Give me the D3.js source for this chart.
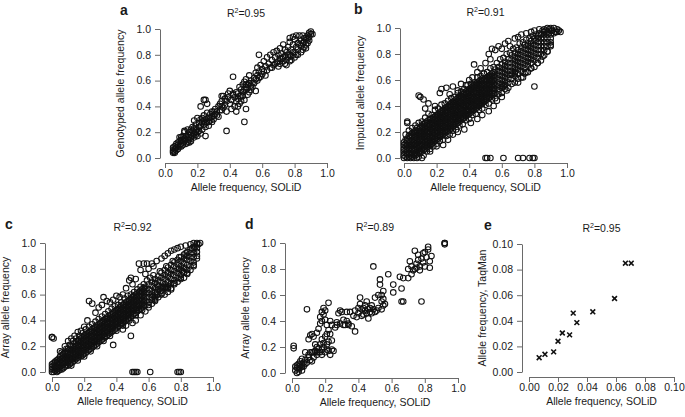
<!DOCTYPE html>
<html><head><meta charset="utf-8">
<script src="https://cdn.jsdelivr.net/npm/d3@7"></script>
<style>
body{margin:0;background:#fff}
text{font-family:"Liberation Sans",Arial,Helvetica,sans-serif;fill:#1a1a1a}
</style></head>
<body><svg id="chart" width="685" height="417"></svg>
<script>
// ---------- DATA ----------
const ticksUnit = [0, 0.2, 0.4, 0.6, 0.8, 1.0];
const tickLabelsUnit = ["0.0", "0.2", "0.4", "0.6", "0.8", "1.0"];
const ticksSmall = [0, 0.02, 0.04, 0.06, 0.08, 0.10];
const tickLabelsSmall = ["0.00", "0.02", "0.04", "0.06", "0.08", "0.10"];

const panelLetters = ["a", "b", "c", "d", "e"];
const r2Values = ["0.95", "0.91", "0.92", "0.89", "0.95"];
const yTitles = ["Genotyped allele frequency", "Imputed allele frequency", "Array allele frequency", "Array allele frequency", "Allele frequency, TaqMan"];
const xTitle = "Allele frequency, SOLiD";

// panel a: SOLiD vs genotyped (x,y pairs)
const pointsA = [.05,.04,.05,.05,.05,.06,.06,.04,.06,.05,.06,.07,.05,.08,.07,.06,.07,.08,.06,.09,.08,.07,.08,.10,.09,.09,.08,.12,.09,.13,.10,.11,.10,.09,.07,.11,.10,.14,.11,.12,.11,.10,.12,.13,.12,.15,.13,.11,.13,.17,.14,.14,.14,.18,.15,.16,.15,.20,.16,.15,.16,.18,.17,.17,.17,.21,.18,.16,.18,.19,.19,.22,.19,.18,.20,.20,.20,.17,.21,.24,.15,.12,.12,.20,.11,.17,.16,.22,.18,.29,.19,.26,.20,.31,.17,.24,.14,.22,.21,.27,.22,.30,.23,.28,.24,.26,.24,.33,.25,.30,.26,.28,.26,.35,.27,.31,.28,.34,.28,.29,.29,.36,.30,.33,.30,.30,.25,.24,.23,.22,.22,.19,.27,.25,.29,.28,.31,.34,.31,.38,.32,.36,.33,.32,.33,.40,.34,.42,.35,.37,.35,.44,.36,.39,.36,.48,.37,.46,.37,.41,.38,.44,.38,.36,.39,.47,.39,.50,.40,.52,.40,.42,.41,.45,.41,.38,.42,.49,.42,.50,.43,.47,.43,.40,.44,.51,.44,.44,.45,.46,.45,.50,.46,.42,.46,.55,.47,.53,.47,.48,.48,.57,.48,.51,.49,.59,.49,.45,.50,.55,.50,.53,.51,.57,.51,.49,.50,.61,.52,.64,.52,.58,.53,.56,.53,.60,.54,.55,.55,.62,.55,.58,.56,.66,.56,.52,.57,.60,.57,.70,.58,.67,.58,.62,.59,.72,.60,.65,.60,.69,.61,.75,.62,.64,.62,.71,.63,.68,.63,.78,.64,.73,.65,.70,.65,.80,.66,.76,.67,.72,.67,.82,.68,.78,.69,.74,.69,.83,.70,.80,.70,.71,.71,.77,.71,.85,.72,.81,.73,.75,.73,.88,.74,.79,.74,.84,.75,.82,.75,.72,.76,.86,.76,.78,.77,.80,.77,.90,.78,.84,.78,.76,.79,.88,.80,.82,.80,.92,.81,.86,.82,.89,.82,.80,.83,.95,.84,.87,.84,.91,.85,.84,.86,.90,.86,.93,.87,.88,.88,.92,.88,.95,.89,.97,.90,.96,.91,.96,.90,.98,.89,.94,.85,.95,.87,.93,.79,.94,.77,.93,.81,.95,.58,.80,.42,.63,.22,.40,.24,.45,.25,.45,.38,.21,.49,.28,.50,.38,.25,.17,.35,.48,.26,.42,.09,.16,.12,.21,
 .10,.16,.11,.14,.13,.15,.14,.12,.16,.13,.18,.23,.19,.20,.21,.21,.22,.25,.23,.31,.24,.29,.25,.27,.27,.28,.28,.31,.29,.32,.30,.36,.32,.33,.34,.37,.35,.40,.44,.36,.45,.40,.46,.48,.47,.44,.48,.48,.49,.53,.50,.57,.51,.54,.52,.51,.53,.53,.54,.58,.56,.61,.57,.64,.59,.63,.61,.67,.66,.70,.68,.73,.70,.75,.71,.73,.72,.77,.73,.78,.74,.73,.75,.76,.76,.80,.77,.75,.78,.79,.79,.82,.80,.78,.81,.80,.82,.84,.83,.88,.84,.82,.85,.89,.86,.86,.87,.85,.88,.89,.89,.91];

// panel b: dense core, columns [x, [y...]]
const coreB = [
 [.00,[.00,.02,.05,.07,.10,.12]],[.01,[.01,.04,.06,.09,.11,.14]],[.02,[.00,.03,.05,.08,.10,.13,.15]],
 [.03,[.01,.04,.07,.09,.12,.14,.17]],[.04,[.00,.02,.05,.08,.10,.13,.16,.18]],[.05,[.01,.03,.06,.09,.11,.14,.17,.19]],
 [.06,[.00,.02,.05,.07,.10,.12,.15,.18,.20]],[.07,[.02,.04,.06,.09,.11,.14,.16,.19,.21]],[.08,[.03,.05,.08,.10,.13,.15,.18,.20,.23]],
 [.10,[.04,.06,.09,.11,.14,.17,.19,.21,.24]],[.12,[.06,.08,.11,.13,.16,.18,.21,.23,.26]],[.14,[.08,.10,.12,.15,.17,.20,.22,.25,.28]],
 [.16,[.10,.12,.15,.17,.20,.22,.25,.27,.30]],[.18,[.12,.14,.17,.19,.22,.24,.27,.29,.31]],[.20,[.14,.16,.19,.21,.24,.26,.28,.31,.33]],
 [.22,[.16,.18,.21,.23,.26,.28,.31,.33,.35]],[.24,[.18,.20,.23,.25,.28,.30,.32,.35,.37]],[.26,[.20,.22,.25,.27,.30,.32,.35,.37,.39]],
 [.28,[.22,.24,.26,.29,.31,.34,.36,.39,.41]],[.30,[.24,.26,.29,.31,.34,.36,.38,.41,.43]],[.32,[.26,.28,.31,.33,.35,.38,.40,.43,.45]],
 [.34,[.28,.30,.33,.35,.38,.40,.42,.45,.47]],[.36,[.30,.32,.35,.37,.40,.42,.45,.47,.49]],[.38,[.32,.34,.36,.39,.41,.44,.46,.49,.51]],
 [.40,[.34,.36,.39,.41,.44,.46,.48,.51,.53]],[.42,[.36,.38,.41,.43,.45,.48,.50,.53,.55]],[.44,[.38,.40,.42,.45,.47,.50,.52,.55,.57]],
 [.46,[.40,.42,.45,.47,.50,.52,.54,.57,.59]],[.48,[.42,.44,.47,.49,.51,.54,.56,.59,.61]],[.50,[.44,.46,.49,.51,.54,.56,.59,.61]],
 [.52,[.46,.48,.51,.53,.56,.58,.61,.63]],[.54,[.48,.50,.53,.55,.58,.60,.63,.65]],[.56,[.50,.53,.56,.59,.62,.65,.68]],
 [.58,[.52,.55,.58,.61,.64,.67,.70]],[.60,[.54,.57,.60,.63,.66,.69,.72]],[.62,[.56,.59,.62,.65,.68,.71,.74]],
 [.64,[.58,.61,.64,.67,.70,.73,.76]],[.66,[.61,.64,.67,.70,.73,.76,.79]],[.68,[.63,.66,.69,.72,.75,.78,.81]],
 [.70,[.65,.68,.71,.74,.77,.80,.83]],[.72,[.67,.70,.73,.76,.79,.82,.85]],[.74,[.69,.72,.75,.78,.81,.84,.87]],
 [.76,[.71,.74,.77,.80,.83,.86,.88]],[.78,[.73,.76,.79,.82,.85,.88,.90]],[.80,[.75,.78,.81,.84,.87,.90,.92]],
 [.82,[.77,.80,.83,.86,.89,.92,.94]],[.84,[.80,.83,.86,.89,.92,.95]],[.86,[.83,.86,.89,.92,.95,.97]],
 [.88,[.86,.89,.92,.95,.97]],[.90,[.89,.92,.95,.98]]
];
// panel b: in-between columns of the dark core
const coreB2 = [
 [.09,[.04,.07,.09,.12,.15,.17,.20,.22]],[.11,[.05,.07,.10,.12,.15,.18,.20,.23,.25]],[.13,[.07,.09,.12,.14,.17,.19,.22,.24,.27]],
 [.15,[.09,.11,.14,.16,.19,.21,.24,.26,.29]],[.17,[.11,.13,.16,.18,.21,.23,.26,.28,.30]],[.19,[.13,.15,.18,.20,.23,.25,.27,.30,.32]],
 [.21,[.15,.17,.20,.22,.25,.27,.29,.32,.34]],[.23,[.17,.19,.22,.24,.27,.29,.31,.34,.36]],[.25,[.19,.21,.24,.26,.29,.31,.33,.36,.38]],
 [.27,[.21,.23,.26,.28,.30,.33,.35,.38,.40]],[.29,[.23,.25,.28,.30,.32,.35,.37,.40,.42]],[.31,[.25,.27,.30,.32,.34,.37,.39,.42,.44]],
 [.33,[.27,.29,.32,.34,.36,.39,.41,.44,.46]],[.35,[.29,.31,.34,.36,.38,.41,.43,.46,.48]],[.37,[.31,.33,.35,.38,.40,.43,.45,.48,.50]],
 [.39,[.33,.35,.37,.40,.42,.45,.47,.50,.52]],[.41,[.35,.37,.40,.42,.44,.47,.49,.52,.54]],[.43,[.37,.39,.42,.44,.46,.49,.51,.54,.56]],
 [.45,[.39,.41,.44,.46,.48,.51,.53,.56,.58]],[.47,[.41,.43,.46,.48,.50,.53,.55,.58,.60]],[.49,[.43,.45,.48,.50,.52,.55,.57,.60]],
 [.51,[.45,.47,.50,.52,.55,.57,.60,.62]],[.53,[.47,.49,.52,.54,.57,.59,.62,.64]],[.55,[.49,.52,.54,.57,.60,.63,.66]]
];
// panel b: scattered points outside the core (x,y pairs)
const scatterB = [.02,.28,.02,.27,.09,.48,.10,.47,.12,.45,.15,.42,.13,.38,.19,.40,.22,.50,.23,.53,.26,.54,.28,.49,.30,.55,.33,.52,.35,.57,.38,.56,.40,.60,.42,.62,.43,.72,.45,.66,.47,.69,.49,.65,.50,.73,.52,.80,.54,.84,.53,.76,.56,.83,.58,.86,.60,.84,.62,.88,.64,.90,.65,.86,.68,.92,.70,.93,.72,.95,.75,.96,.78,.97,.80,.98,.83,.99,.86,.99,.88,1.0,.90,1.0,.92,1.0,.94,.99,.95,.98,.93,.97,.91,.98,.96,.97,.92,.96,.94,.97,.89,.99,
 .01,.18,.03,.21,.05,.23,.07,.25,.09,.27,.11,.28,.13,.31,.15,.34,.17,.33,.19,.37,.21,.38,.23,.41,.25,.42,.27,.44,.29,.46,.31,.47,.33,.50,.35,.51,.37,.53,.39,.56,.41,.57,.43,.58,.45,.62,.47,.63,.49,.65,.51,.66,.53,.69,.55,.70,.57,.73,.59,.76,.61,.77,.63,.80,.65,.81,.67,.84,.69,.85,.71,.88,.73,.89,.75,.91,.77,.92,.79,.94,.81,.95,.83,.96,.85,.98,.87,.98,
 .09,.01,.12,.02,.14,.05,.16,.07,.18,.09,.20,.11,.22,.13,.24,.14,.26,.17,.28,.18,.30,.21,.32,.22,.34,.25,.36,.26,.38,.29,.40,.30,.42,.33,.44,.34,.46,.37,.48,.38,.50,.41,.52,.42,.54,.45,.56,.46,.58,.49,.60,.50,.62,.53,.64,.54,.66,.57,.68,.58,.70,.61,.72,.62,.74,.65,.76,.66,.78,.69,.80,.70,.82,.73,.84,.75,.86,.79,.88,.82,.90,.86,
 .16,.05,.20,.09,.24,.10,.27,.14,.30,.18,.33,.20,.37,.22,.41,.27,.45,.30,.48,.33,.52,.36,.55,.40,.57,.44,.60,.47,.63,.52,.60,.55,.61,.55,.66,.65,.68,.65,.70,.58,.73,.62,.75,.66,.78,.69,.80,.55,.82,.73,.85,.78,.88,.82,.90,.87,.08,.00,.11,.00,
 .50,.00,.51,.00,.53,.00,.61,.00,.70,.00,.73,.00,.77,.00,.79,.00,.80,.00];

// panel c: dense core columns
const coreC = [
 [.00,[.00,.02,.04,.06]],[.01,[.00,.02,.05,.07]],[.02,[.01,.03,.05,.08]],[.03,[.00,.02,.04,.07,.09]],
 [.04,[.01,.03,.06,.08,.10]],[.05,[.02,.04,.07,.09,.12]],[.06,[.02,.05,.07,.10,.13]],[.07,[.03,.06,.08,.11,.14]],
 [.08,[.04,.07,.09,.12,.15]],[.10,[.05,.08,.10,.13,.15,.18]],[.12,[.07,.10,.12,.15,.17,.20]],[.14,[.09,.11,.14,.16,.19,.22]],
 [.16,[.11,.13,.16,.18,.21,.24]],[.18,[.12,.15,.17,.20,.23,.26]],[.20,[.14,.17,.19,.22,.25,.28]],[.22,[.16,.19,.21,.24,.27,.30]],
 [.24,[.18,.21,.23,.26,.29,.32]],[.26,[.20,.23,.25,.28,.31,.34]],[.28,[.22,.25,.27,.30,.33,.36]],[.30,[.24,.27,.29,.32,.35,.38]],
 [.32,[.26,.29,.31,.34,.37,.40]],[.34,[.28,.31,.33,.36,.39,.42]],[.36,[.30,.33,.35,.38,.41,.44]],[.38,[.32,.35,.37,.40,.43,.46]],
 [.40,[.34,.37,.39,.42,.45,.48]],[.42,[.36,.39,.41,.44,.47,.50]],[.44,[.38,.41,.43,.46,.49,.52]],[.46,[.40,.43,.45,.48,.51,.54]],
 [.48,[.42,.45,.47,.50,.53,.56]],[.50,[.44,.47,.49,.52,.55,.58]],[.52,[.46,.49,.51,.54,.57,.60]],[.54,[.48,.51,.53,.56,.59,.62]],
 [.56,[.50,.53,.56,.59,.62,.64]],[.58,[.52,.55,.58,.61,.64,.66]],[.60,[.54,.58,.61,.64,.68]],[.62,[.56,.60,.63,.67,.70]],
 [.64,[.58,.62,.65,.69,.72]],[.66,[.60,.64,.67,.71,.74]],[.68,[.63,.66,.70,.73,.77]],[.70,[.65,.68,.72,.75,.79]],
 [.72,[.67,.70,.74,.77,.81]],[.74,[.69,.72,.76,.79,.83]],[.76,[.71,.75,.78,.82,.85]],[.78,[.73,.77,.80,.84,.87]],
 [.80,[.75,.79,.82,.86,.89]],[.82,[.77,.81,.84,.88,.91]],[.84,[.79,.83,.87,.90,.93]],[.86,[.82,.86,.89,.92,.95]],
 [.88,[.85,.89,.92,.95,.97]],[.90,[.90,.93,.96,.99]]
];
const coreC2 = [
 [.09,[.05,.07,.10,.12,.15]],[.11,[.06,.09,.11,.14,.17]],[.13,[.08,.10,.13,.15,.18,.20]],[.15,[.10,.12,.15,.17,.20,.23]],
 [.17,[.12,.14,.16,.19,.22,.25]],[.19,[.13,.16,.18,.21,.24,.27]],[.21,[.15,.18,.20,.23,.26,.29]],[.23,[.17,.20,.22,.25,.28,.31]],
 [.25,[.19,.22,.24,.27,.30,.33]],[.27,[.21,.24,.26,.29,.32,.35]],[.29,[.23,.26,.28,.31,.34,.37]],[.31,[.25,.28,.30,.33,.36,.39]],
 [.33,[.27,.30,.32,.35,.38,.41]],[.35,[.29,.32,.34,.37,.40,.43]],[.37,[.31,.34,.36,.39,.42,.45]],[.39,[.33,.36,.38,.41,.44,.47]],
 [.41,[.35,.38,.40,.43,.46,.49]],[.43,[.37,.40,.42,.45,.48,.51]],[.45,[.39,.42,.44,.47,.50,.53]],[.47,[.41,.44,.46,.49,.52,.55]],
 [.49,[.43,.46,.48,.51,.54,.57]],[.51,[.45,.48,.50,.53,.56,.59]],[.53,[.47,.50,.52,.55,.58,.61]],[.55,[.49,.52,.55,.58,.61,.63]],
 [.57,[.51,.54,.57,.60,.63,.65]]
];
const scatterC = [.00,.27,.00,.27,.01,.26,.05,.16,.08,.20,.10,.24,.12,.26,.14,.28,.16,.31,.18,.32,.20,.35,.22,.40,.23,.55,.25,.53,.27,.46,.29,.50,.32,.58,.31,.52,.34,.55,.36,.54,.38,.56,.40,.59,.42,.58,.44,.60,.46,.65,.48,.71,.49,.73,.50,.68,.52,.72,.54,.84,.55,.79,.57,.84,.59,.84,.62,.84,.58,.76,.60,.80,.63,.82,.65,.86,.68,.88,.70,.90,.72,.92,.74,.94,.76,.95,.78,.96,.80,.97,.83,.98,.86,.99,.88,1.0,.90,1.0,.92,1.0,.91,.99,.89,.97,
 .38,.21,.49,.28,.50,.38,.44,.33,.46,.36,.52,.40,.55,.44,.58,.47,.60,.50,.62,.53,.64,.55,.66,.58,.68,.60,.70,.60,.72,.62,.74,.65,.69,.66,.71,.65,.66,.66,.65,.60,.76,.68,.78,.70,.80,.72,.82,.73,.84,.76,.86,.79,.88,.83,.90,.88,.79,.80,.81,.78,.62,.58,.64,.56,.68,.65,.70,.66,.72,.65,.74,.64,
 .06,.15,.09,.18,.11,.21,.13,.24,.15,.26,.17,.28,.19,.30,.21,.33,.23,.35,.25,.37,.27,.39,.29,.41,.31,.43,.33,.45,.35,.47,.37,.49,.39,.51,.41,.52,.43,.54,.45,.57,.47,.59,.49,.60,.51,.62,.53,.64,.55,.66,.57,.68,.59,.71,.61,.73,.63,.75,.67,.78,.71,.82,.75,.86,.79,.89,.83,.92,.87,.96,
 .12,.05,.16,.09,.20,.12,.24,.16,.28,.20,.32,.24,.36,.28,.40,.32,.44,.36,.48,.40,.52,.44,.56,.48,.60,.52,.64,.57,.68,.61,.72,.65,.76,.69,.80,.73,.84,.77,.88,.82,
 .50,.00,.51,.00,.52,.00,.53,.00,.61,.00,.78,.00,.79,.00,.80,.00];

// panel d: SOLiD vs array (x,y pairs)
const pointsD = [.02,.02,.03,.04,.03,.06,.04,.03,.04,.05,.05,.04,.05,.06,.02,.05,.03,.00,.04,.01,.06,.02,.06,.05,.07,.08,.05,.09,.04,.07,.07,.05,.08,.10,.08,.07,.06,.11,.09,.08,.10,.12,.10,.14,.11,.10,.12,.09,.12,.16,.13,.16,.13,.12,.14,.17,.15,.16,.15,.14,.16,.19,.16,.16,.17,.22,.17,.16,.18,.18,.18,.14,.19,.20,.20,.16,.21,.18,.21,.22,.22,.17,.23,.14,.24,.18,.25,.17,.22,.24,
 .01,.21,.01,.19,.09,.49,.10,.26,.11,.29,.12,.30,.13,.28,.14,.22,.15,.31,.16,.34,.17,.38,.17,.43,.18,.47,.18,.40,.19,.45,.19,.50,.20,.48,.20,.41,.21,.37,.21,.30,.20,.28,.22,.33,.23,.40,.22,.54,.24,.37,.26,.35,.27,.39,.28,.46,.29,.48,.30,.47,.31,.41,.32,.37,.33,.40,.33,.47,.34,.37,.35,.47,.36,.36,.37,.44,.38,.32,.38,.48,.39,.43,.40,.50,.40,.46,.41,.58,.41,.53,.42,.44,.42,.49,.43,.45,.43,.50,.44,.48,.44,.52,.45,.46,.45,.55,.46,.49,.46,.42,.47,.50,.47,.47,.48,.46,.48,.52,.49,.49,.50,.47,.50,.58,.51,.48,.52,.50,.52,.60,.53,.68,.53,.72,.54,.55,.54,.49,.55,.52,.55,.57,.55,.63,.56,.53,.54,.60,
 .49,.82,.58,.76,.61,.68,.61,.62,.65,.74,.66,.65,.66,.55,.67,.55,.67,.73,.70,.73,.70,.80,.71,.86,.72,.82,.73,.79,.74,.94,.75,.84,.75,.81,.76,.87,.76,.91,.77,.82,.77,.79,.78,.88,.79,.85,.79,.92,.80,.93,.80,.82,.81,.89,.82,.97,.82,.95,.83,.81,.83,.86,.84,.90,.78,.55,.74,.80,.72,.76,
 .92,1.0,.92,1.0,.92,.99,.27,.37,.29,.38,.31,.37,.34,.38,.15,.20,.18,.26,.19,.23,.24,.25,.11,.16,.08,.16,.23,.30];

// panel e: SOLiD vs TaqMan
const solidE = [0.007, 0.011, 0.017, 0.020, 0.023, 0.028, 0.0305, 0.033, 0.044, 0.059, 0.0665, 0.0705];
const taqmanE = [0.0112, 0.0138, 0.0157, 0.024, 0.0305, 0.029, 0.046, 0.0386, 0.047, 0.0574, 0.085, 0.085];

// ---------- DRAWING ----------
const svg = d3.select("#chart");
const toPairs = flat => d3.range(0, flat.length, 2).map(i => [flat[i], flat[i + 1]]);
const fromCols = cols => cols.flatMap(([x, ys]) => ys.map(y => [x, y]));

const panels = [
  {data: toPairs(pointsA), max: 1, ticks: ticksUnit, labels: tickLabelsUnit, xr: [165, 327], yr: [158, 29], ax: 160, ay: 163, lx: 120, mark: "circle"},
  {data: fromCols(coreB).concat(fromCols(coreB2), toPairs(scatterB)), max: 1, ticks: ticksUnit, labels: tickLabelsUnit, xr: [404, 567], yr: [158, 28], ax: 400, ay: 163, lx: 354, mark: "circle"},
  {data: fromCols(coreC).concat(fromCols(coreC2), toPairs(scatterC)), max: 1, ticks: ticksUnit, labels: tickLabelsUnit, xr: [52, 213], yr: [372, 243], ax: 45, ay: 377, lx: 5, mark: "circle"},
  {data: toPairs(pointsD), max: 1, ticks: ticksUnit, labels: tickLabelsUnit, xr: [292, 458], yr: [373, 243], ax: 285, ay: 378, lx: 245, mark: "circle"},
  {data: solidE.map((v, i) => [v, taqmanE[i]]), max: 0.1, ticks: ticksSmall, labels: tickLabelsSmall, xr: [529, 674], yr: [372, 244], ax: 522, ay: 377, lx: 484, mark: "cross"}
];

panels.forEach((p, i) => {
  const x = d3.scaleLinear().domain([0, p.max]).range(p.xr);
  const y = d3.scaleLinear().domain([0, p.max]).range(p.yr);
  const g = svg.append("g");

  const fmt = d => p.labels[p.ticks.indexOf(d)];
  const yAxis = g.append("g").attr("transform", `translate(${p.ax},0)`)
    .call(d3.axisLeft(y).tickValues(p.ticks).tickFormat(fmt).tickSize(5).tickSizeOuter(0).tickPadding(4));
  const xAxis = g.append("g").attr("transform", `translate(0,${p.ay})`)
    .call(d3.axisBottom(x).tickValues(p.ticks).tickFormat(fmt).tickSize(5).tickSizeOuter(0).tickPadding(2));
  [yAxis, xAxis].forEach(a => {
    a.attr("font-family", null).attr("font-size", null);
    a.selectAll("path,line").attr("stroke", "#6a6a6a").attr("stroke-width", 1);
    a.selectAll("text").attr("font-size", 10.5).attr("fill", "#1a1a1a");
  });

  // marks
  if (p.mark === "circle") {
    g.append("g").selectAll("circle").data(p.data).join("circle")
      .attr("cx", d => x(d[0])).attr("cy", d => y(d[1])).attr("r", 2.8)
      .attr("fill", "none").attr("stroke", "#111").attr("stroke-width", 1.05);
  } else {
    const s = 2.4;
    g.append("g").selectAll("path").data(p.data).join("path")
      .attr("d", d => { const cx = x(d[0]), cy = y(d[1]);
        return `M${cx - s},${cy - s}L${cx + s},${cy + s}M${cx - s},${cy + s}L${cx + s},${cy - s}`; })
      .attr("stroke", "#111").attr("stroke-width", 1.6);
  }

  // titles
  const midX = (p.xr[0] + p.xr[1]) / 2, midY = (p.yr[0] + p.yr[1]) / 2;
  g.append("text").attr("x", midX).attr("y", p.ay + 28).attr("text-anchor", "middle")
    .attr("font-size", 10.5).text(xTitle);
  g.append("text").attr("transform", `translate(${Math.max(p.ax - 36, 9)},${midY}) rotate(-90)`)
    .attr("text-anchor", "middle").attr("font-size", 10.5).text(yTitles[i]);

  const top = p.yr[1];
  const r2 = g.append("text").attr("x", midX).attr("y", top - 12).attr("text-anchor", "middle").attr("font-size", 10.5);
  r2.append("tspan").text("R");
  r2.append("tspan").attr("font-size", 7).attr("dy", -4).text("2");
  r2.append("tspan").attr("dy", 4).text("=" + r2Values[i]);

  g.append("text").attr("x", p.lx).attr("y", top - 14).attr("font-size", 14).attr("font-weight", "bold")
    .text(panelLetters[i]);
});
</script>
</body></html>
